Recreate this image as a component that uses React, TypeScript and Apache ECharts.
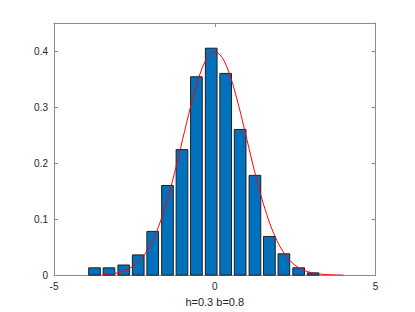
import React, { useEffect, useRef } from "react";
import * as echarts from "echarts";

const binCenters = [-3.74, -3.29, -2.83, -2.38, -1.93, -1.47, -1.02, -0.57, -0.11, 0.34, 0.79, 1.25, 1.7, 2.15, 2.61, 3.06];
const binHeights = [0.013, 0.013, 0.018, 0.036, 0.078, 0.16, 0.224, 0.354, 0.405, 0.36, 0.26, 0.178, 0.069, 0.038, 0.013, 0.004];
const binWidth = 0.363;

const curveX = [-3.5, -3.25, -3, -2.75, -2.5, -2.25, -2, -1.75, -1.5, -1.25, -1, -0.75, -0.5, -0.25, 0, 0.25, 0.5, 0.75, 1, 1.25, 1.5, 1.75, 2, 2.25, 2.5, 2.75, 3, 3.25, 3.5, 3.75, 4];
const curveY = [0.0009, 0.002, 0.0044, 0.0091, 0.0175, 0.0317, 0.054, 0.0863, 0.1295, 0.1826, 0.242, 0.3011, 0.3521, 0.3867, 0.3989, 0.3867, 0.3521, 0.3011, 0.242, 0.1826, 0.1295, 0.0863, 0.054, 0.0317, 0.0175, 0.0091, 0.0044, 0.002, 0.0009, 0.0004, 0.0001];

const xLabel = "h=0.3 b=0.8";

export default function App() {
  const ref = useRef<HTMLDivElement>(null);
  useEffect(() => {
    if (!ref.current) return;
    const chart = echarts.init(ref.current, null, { renderer: "svg" });
    const axisColor = "#262626";
    const lineColor = "#8c8c8c";
    const font = "Liberation Sans";
    const common = {
      axisLine: { show: true, onZero: false, lineStyle: { color: lineColor, width: 1 } },
      axisTick: { show: true, inside: true, length: 4, lineStyle: { color: lineColor } },
      splitLine: { show: false },
    };
    chart.setOption({
      animation: false,
      backgroundColor: "#ffffff",
      grid: { left: 54, right: 39.5, top: 23, bottom: 34.5, containLabel: false },
      xAxis: [
        {
          type: "value", min: -5, max: 5, interval: 5, position: "bottom", ...common,
          axisLabel: { color: axisColor, fontSize: 10, fontFamily: font, margin: 6 },
          name: xLabel, nameLocation: "middle", nameGap: 19,
          nameTextStyle: { color: axisColor, fontSize: 11, fontFamily: font },
        },
        {
          type: "value", min: -5, max: 5, interval: 5, position: "top", ...common,
          axisLabel: { show: false },
        },
      ],
      yAxis: [
        {
          type: "value", min: 0, max: 0.45, interval: 0.1, position: "left", ...common,
          axisLabel: { color: axisColor, fontSize: 10, fontFamily: font, margin: 6, showMaxLabel: false,
            formatter: (v: number) => (Math.abs(v * 10 - Math.round(v * 10)) < 1e-6 ? String(Math.round(v * 10) / 10) : "") },
        },
        {
          type: "value", min: 0, max: 0.45, interval: 0.1, position: "right", ...common,
          axisLabel: { show: false },
        },
      ],
      series: [
        {
          type: "custom",
          xAxisIndex: 0,
          yAxisIndex: 0,
          data: binCenters.map((c, i) => [c, binHeights[i]]),
          renderItem: (params: any, api: any) => {
            const c = api.value(0);
            const h = api.value(1);
            const p0 = api.coord([c - binWidth / 2, h]);
            const p1 = api.coord([c + binWidth / 2, 0]);
            return {
              type: "rect",
              shape: { x: p0[0], y: p0[1], width: p1[0] - p0[0], height: p1[1] - p0[1] },
              style: { fill: "#0072BD", stroke: "#1f1f1f", lineWidth: 1 },
            };
          },
        },
        {
          type: "line",
          xAxisIndex: 0,
          yAxisIndex: 0,
          data: curveX.map((x, i) => [x, curveY[i]]),
          showSymbol: false,
          smooth: 0.3,
          lineStyle: { color: "#ff0000", width: 1 },
          z: 5,
        },
      ],
    });
    return () => chart.dispose();
  }, []);
  return <div ref={ref} style={{ position: "fixed", left: 0, top: 0, width: 415, height: 312 }} />;
}
